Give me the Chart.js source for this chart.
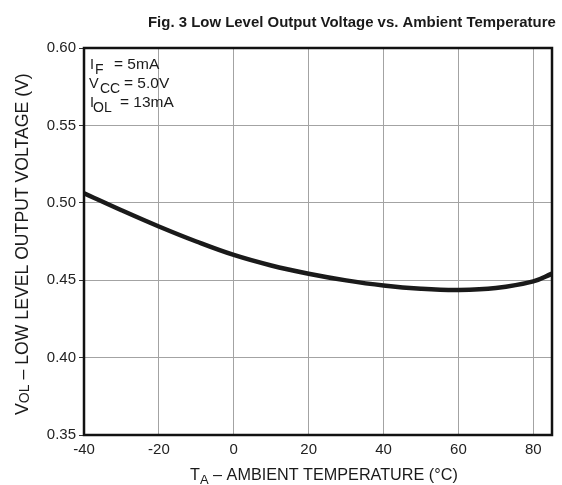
<!DOCTYPE html>
<html>
<head>
<meta charset="utf-8">
<script src="https://cdn.jsdelivr.net/npm/chart.js@4"></script>
<style>
  html, body { margin: 0; padding: 0; background: #ffffff; }
  #wrap { width: 562px; height: 485px; }
</style>
</head>
<body>
<div id="wrap"><canvas id="c" width="562" height="485"></canvas></div>
<script>
// ---- data ----
const temperatures = [-40, -30, -20, -10, 0, 10, 20, 30, 40, 50, 60, 70, 80, 85];
const volOutput   = [0.5062, 0.4952, 0.4847, 0.4750, 0.4663, 0.4595, 0.4542, 0.4499, 0.4466, 0.4445, 0.4437, 0.4449, 0.4492, 0.4542];
const xTickValues = [-40, -20, 0, 20, 40, 60, 80];
const yTickValues = [0.35, 0.40, 0.45, 0.50, 0.55, 0.60];
const titleText = "Fig. 3 Low Level Output Voltage vs. Ambient Temperature";
const conditions = [
  ["I", "F", "= 5mA"],
  ["V", "CC", "= 5.0V"],
  ["I", "OL", "= 13mA"]
];

const FONT = "'Liberation Sans', Arial, Helvetica, sans-serif";

const pts = temperatures.map((t, i) => ({ x: t, y: volOutput[i] }));

function fitSize(ctx, text, weight, target) {
  ctx.font = weight + "20px " + FONT;
  return 20 * target / ctx.measureText(text).width;
}

function drawTitleWithSub(ctx, cx, y, main, sub, rest, targetW, subScale, subDrop) {
  ctx.font = "20px " + FONT;
  const wm = ctx.measureText(main).width, wr = ctx.measureText(rest).width;
  ctx.font = (20 * subScale) + "px " + FONT;
  const ws = ctx.measureText(sub).width;
  const size = 20 * targetW / (wm + ws + wr);
  const k = size / 20;
  let x = cx - targetW / 2;
  ctx.font = size + "px " + FONT;
  ctx.fillText(main, x, y);
  x += wm * k;
  ctx.font = (size * subScale) + "px " + FONT;
  ctx.fillText(sub, x, y + subDrop);
  x += ws * k;
  ctx.font = size + "px " + FONT;
  ctx.fillText(rest, x, y);
}

const decor = {
  id: 'decor',
  beforeDraw(chart) {
    const ctx = chart.ctx;
    ctx.save();
    ctx.fillStyle = '#ffffff';
    ctx.fillRect(0, 0, chart.width, chart.height);
    ctx.restore();
  },
  afterDatasetsDraw(chart) {
    const ctx = chart.ctx;
    const a = chart.chartArea;
    ctx.save();
    // frame
    ctx.strokeStyle = '#111111';
    ctx.lineWidth = 2.5;
    ctx.strokeRect(a.left, a.top, a.right - a.left, a.bottom - a.top);
    // title
    ctx.fillStyle = '#1a1a1a';
    const ts = fitSize(ctx, titleText, "bold ", 408);
    ctx.font = "bold " + ts + "px " + FONT;
    ctx.textAlign = 'left';
    ctx.textBaseline = 'alphabetic';
    ctx.fillText(titleText, 148, 27);
    // conditions
    const baseY = [69, 88, 107];
    const mainX = [90, 89, 90];
    const subX = [95, 100, 93];
    const restX = [114, 124, 120];
    conditions.forEach((c, i) => {
      ctx.font = "14.5px " + FONT;
      ctx.fillText(c[0], mainX[i], baseY[i]);
      ctx.font = "14px " + FONT;
      ctx.fillText(c[1], subX[i], baseY[i] + 5);
      ctx.font = "15.5px " + FONT;
      ctx.fillText(c[2], restX[i], baseY[i]);
    });
    // x axis title
    drawTitleWithSub(ctx, 324, 480, "T", "A", " \u2013 AMBIENT TEMPERATURE (\u00B0C)", 268, 0.8, 4);
    // y axis title
    ctx.save();
    ctx.translate(28, 244);
    ctx.rotate(-Math.PI / 2);
    drawTitleWithSub(ctx, 0, 0, "V", "OL", " \u2013 LOW LEVEL OUTPUT VOLTAGE (V)", 342, 0.8, 1);
    ctx.restore();
    ctx.restore();
  }
};

new Chart(document.getElementById('c'), {
  type: 'scatter',
  data: {
    datasets: [{
      data: pts,
      showLine: true,
      borderColor: '#1a1a1a',
      borderWidth: 4.5,
      pointRadius: 0,
      tension: 0.4,
      fill: false
    }]
  },
  options: {
    responsive: false,
    animation: false,
    devicePixelRatio: 1,
    layout: { padding: { top: 48, right: 10, left: 0, bottom: 0 } },
    plugins: { legend: { display: false }, tooltip: { enabled: false }, title: { display: false } },
    scales: {
      x: {
        type: 'linear',
        min: -40, max: 85,
        afterBuildTicks(scale) { scale.ticks = xTickValues.map(v => ({ value: v })); },
        afterFit(scale) { scale.height = 50; },
        grid: { color: '#a3a3a3', lineWidth: 1, drawTicks: false },
        border: { display: false },
        ticks: {
          color: '#222222',
          padding: 6,
          font: { family: FONT, size: 15 },
          maxRotation: 0,
          callback: v => String(v)
        }
      },
      y: {
        type: 'linear',
        min: 0.35, max: 0.60,
        afterBuildTicks(scale) { scale.ticks = yTickValues.map(v => ({ value: v })); },
        afterFit(scale) { scale.width = 84; },
        grid: { color: '#a3a3a3', lineWidth: 1, tickLength: 5, drawTicks: true, tickColor: '#333333' },
        border: { display: false },
        ticks: {
          color: '#222222',
          padding: 3,
          font: { family: FONT, size: 15 },
          callback: v => Number(v).toFixed(2)
        }
      }
    }
  },
  plugins: [decor]
});
</script>
</body>
</html>
